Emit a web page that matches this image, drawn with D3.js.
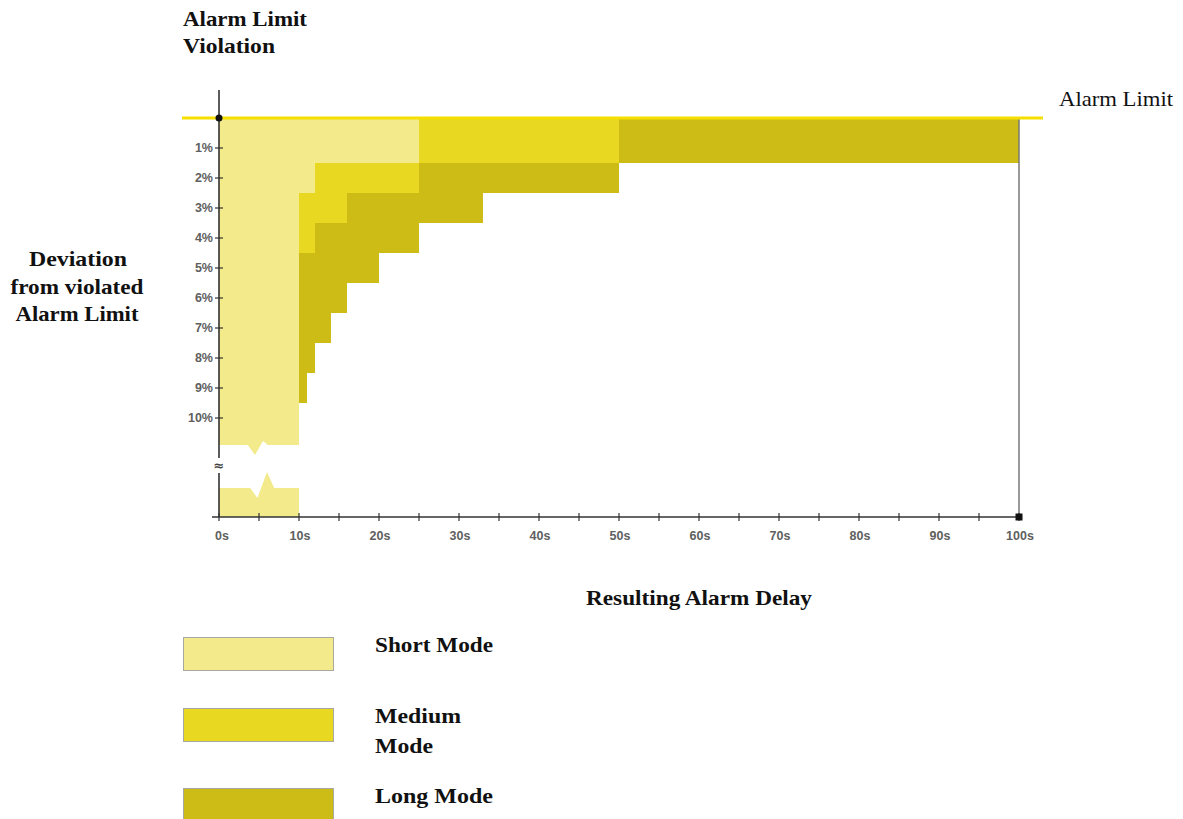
<!DOCTYPE html>
<html>
<head>
<meta charset="utf-8">
<script src="https://cdn.jsdelivr.net/npm/d3@7"></script>
<style>
  html, body { margin: 0; padding: 0; background: #ffffff; }
  svg { display: block; }
  .serif { font-family: "Liberation Serif", "DejaVu Serif", serif; fill: #111; }
  .tick { font-family: "Liberation Sans", Arial, sans-serif; font-size: 12.5px; font-weight: bold; fill: #606060; }
</style>
</head>
<body>
<svg id="chart" width="1183" height="819"></svg>
<script>
// ---------------- DATA ----------------
const deviations   = [1, 2, 3, 4, 5, 6, 7, 8, 9, 10];           // % deviation steps
const yTickLabels  = ["1%", "2%", "3%", "4%", "5%", "6%", "7%", "8%", "9%", "10%"];
const longDelay    = [100, 50, 33, 25, 20, 16, 14, 12, 11, 10];  // seconds
const mediumDelay  = [50, 25, 16, 12, 10, 10, 10, 10, 10, 10];
const shortDelay   = [25, 12, 10, 10, 10, 10, 10, 10, 10, 10];
const xTickValues  = [0, 10, 20, 30, 40, 50, 60, 70, 80, 90, 100];
const xTickLabels  = ["0s", "10s", "20s", "30s", "40s", "50s", "60s", "70s", "80s", "90s", "100s"];
const xMinorTicks  = [0, 5, 10, 15, 20, 25, 30, 35, 40, 45, 50, 55, 60, 65, 70, 75, 80, 85, 90, 95, 100];
const modeNames    = ["Short Mode", "Medium Mode", "Long Mode"];
const legendLines  = [["Short Mode"], ["Medium", "Mode"], ["Long Mode"]];
const bigDeviationDelay = 10;   // delay for very large deviations (below the axis break)

// ---------------- STYLE / LAYOUT ----------------
const colors = { "Short Mode": "#f2ea8b", "Medium Mode": "#e8d822", "Long Mode": "#cdbb16" };
const svg = d3.select("#chart");

const x = d3.scaleLinear().domain([0, 100]).range([219, 1019]);
const y = d3.scaleLinear().domain([0, 10]).range([118, 418]);
const axisY = 517;
const breakPct = 10.9;          // where upper section is cut
const lowerTop = 488;           // top of section below the break

const bandTop = i => (i === 0 ? 0 : deviations[i] - 0.5);
const bandBot = i => deviations[i] + 0.5;

const plot = svg.append("g");

// mode step areas (long underneath, short on top)
const series = [
  { name: "Long Mode", values: longDelay },
  { name: "Medium Mode", values: mediumDelay },
  { name: "Short Mode", values: shortDelay }
];
series.forEach(s => {
  plot.append("g").selectAll("rect")
    .data(s.values.map((v, i) => ({ v, i })).filter(d => !(s.name === "Short Mode" && d.i === deviations.length - 1)))
    .join("rect")
    .attr("x", x(0))
    .attr("y", d => y(bandTop(d.i)))
    .attr("width", d => x(d.v) - x(0))
    .attr("height", d => y(bandBot(d.i)) - y(bandTop(d.i)))
    .attr("fill", colors[s.name])
    .attr("shape-rendering", "crispEdges");
});

// last short band with break zigzag at bottom
const lastI = deviations.length - 1;
const by = y(breakPct);
const upperPts = [
  [x(0), y(bandTop(lastI))],
  [x(shortDelay[lastI]), y(bandTop(lastI))],
  [x(shortDelay[lastI]), by],
  [x(6.1), by],
  [x(5.5), by - 4],
  [x(4.5), by + 10],
  [x(3.6), by],
  [x(0), by]
];
plot.append("path")
  .attr("d", d3.line()(upperPts) + "Z")
  .attr("fill", colors["Short Mode"]);

// lower section (beyond the break)
const lowerPts = [
  [x(0), axisY],
  [x(bigDeviationDelay), axisY],
  [x(bigDeviationDelay), lowerTop],
  [x(6.9), lowerTop],
  [x(6.0), lowerTop - 16],
  [x(4.8), lowerTop + 10],
  [x(3.9), lowerTop],
  [x(0), lowerTop]
];
plot.append("path")
  .attr("d", d3.line()(lowerPts) + "Z")
  .attr("fill", colors["Short Mode"]);

// right vertical line at 100s
plot.append("line")
  .attr("x1", x(100)).attr("x2", x(100))
  .attr("y1", y(0)).attr("y2", axisY)
  .attr("stroke", "#777").attr("stroke-width", 1.5);

// alarm limit line
svg.append("line")
  .attr("x1", 182).attr("x2", 1043)
  .attr("y1", y(0)).attr("y2", y(0))
  .attr("stroke", "#f5df00").attr("stroke-width", 3);

// ---------------- AXES ----------------
const axisColor = "#333";
// y axis line (with break gap)
svg.append("line").attr("x1", x(0)).attr("x2", x(0)).attr("y1", 90).attr("y2", 458)
  .attr("stroke", axisColor).attr("stroke-width", 1.6);
svg.append("line").attr("x1", x(0)).attr("x2", x(0)).attr("y1", 473).attr("y2", axisY)
  .attr("stroke", axisColor).attr("stroke-width", 1.6);
svg.append("text").attr("x", x(0)).attr("y", 470).attr("text-anchor", "middle")
  .attr("font-family", "DejaVu Sans, sans-serif").attr("font-size", 13).attr("font-weight", "bold")
  .attr("fill", "#444").text("≈");

// dot at origin of the limit
svg.append("circle").attr("cx", x(0)).attr("cy", y(0)).attr("r", 3.5).attr("fill", "#111");

// y ticks
const yAxis = svg.append("g");
yAxis.selectAll("line").data(deviations).join("line")
  .attr("x1", x(0) - 4).attr("x2", x(0) + 4)
  .attr("y1", d => y(d)).attr("y2", d => y(d))
  .attr("stroke", axisColor).attr("stroke-width", 1.2);
yAxis.selectAll("text").data(deviations).join("text")
  .attr("class", "tick")
  .attr("x", x(0) - 6).attr("y", d => y(d)).attr("dy", "0.35em")
  .attr("text-anchor", "end")
  .text((d, i) => yTickLabels[i]);

// x axis
svg.append("line").attr("x1", 212).attr("x2", x(100)).attr("y1", axisY).attr("y2", axisY)
  .attr("stroke", axisColor).attr("stroke-width", 1.6);
const xAxis = svg.append("g");
xAxis.selectAll("line").data(xMinorTicks).join("line")
  .attr("x1", d => x(d)).attr("x2", d => x(d))
  .attr("y1", axisY - 4).attr("y2", axisY + 4)
  .attr("stroke", axisColor).attr("stroke-width", 1.2);
xAxis.selectAll("text").data(xTickValues).join("text")
  .attr("class", "tick")
  .attr("x", d => x(d) + (d === 0 ? 3 : 1)).attr("y", axisY + 23)
  .attr("text-anchor", "middle")
  .text((d, i) => xTickLabels[i]);
svg.append("rect").attr("x", x(100) - 3.5).attr("y", axisY - 3.5).attr("width", 7).attr("height", 7)
  .attr("fill", "#111");

// ---------------- TEXTS ----------------
function label(txt, px, py, opts) {
  const t = svg.append("text").attr("class", "serif")
    .attr("x", px).attr("y", py)
    .attr("font-size", opts.size || 22)
    .attr("font-weight", opts.weight || "bold")
    .attr("text-anchor", opts.anchor || "start")
    .text(txt);
  if (opts.width) t.attr("textLength", opts.width).attr("lengthAdjust", "spacingAndGlyphs");
  return t;
}
// title
label("Alarm Limit", 183, 26, { width: 124 });
label("Violation", 183, 53, { width: 92 });
// y axis title
label("Deviation", 78, 266, { anchor: "middle", width: 98 });
label("from violated", 77, 294, { anchor: "middle", width: 133 });
label("Alarm Limit", 77, 321, { anchor: "middle", width: 123 });
// x axis title
label("Resulting Alarm Delay", 699, 605, { anchor: "middle", width: 226 });
// alarm limit label
label("Alarm Limit", 1059, 106, { weight: "normal", size: 21, width: 114 });

// ---------------- LEGEND ----------------
const legendTops = [637, 708, 788];
const legendWidths = [[118], [86, 58], [118]];
const lg = svg.append("g");
modeNames.forEach((m, i) => {
  lg.append("rect")
    .attr("x", 183.5).attr("y", legendTops[i] + 0.5)
    .attr("width", 150).attr("height", 33)
    .attr("fill", colors[m]).attr("stroke", "#a8a8a0").attr("stroke-width", 1);
  legendLines[i].forEach((ln, j) => {
    label(ln, 375, legendTops[i] + 15 + j * 30, { width: legendWidths[i][j] });
  });
});
</script>
</body>
</html>
